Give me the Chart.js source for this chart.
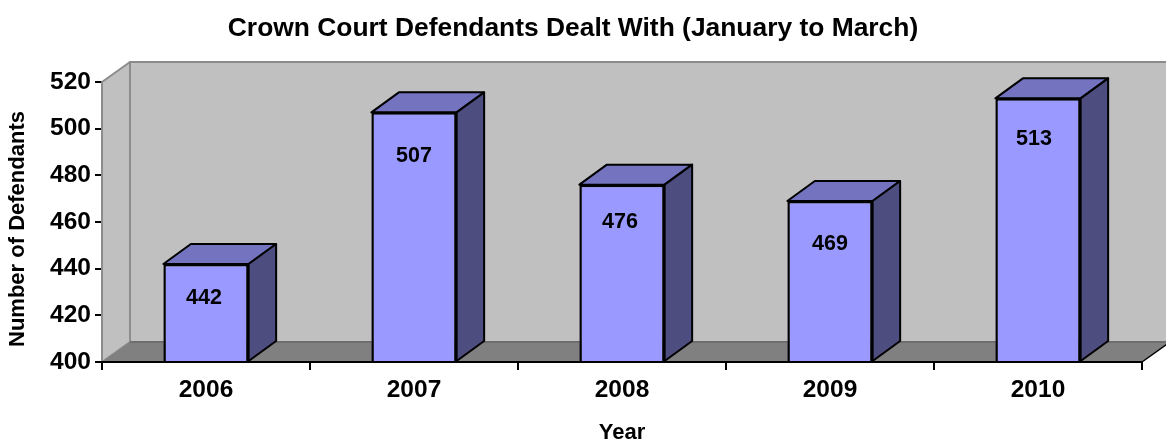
<!DOCTYPE html>
<html>
<head>
<meta charset="utf-8">
<title>Crown Court Defendants</title>
<script src="https://cdn.jsdelivr.net/npm/chart.js@4"></script>
<style>
  html, body { margin: 0; padding: 0; background: #fff; }
  canvas { display: block; }
</style>
</head>
<body>
<canvas id="chart" width="1166" height="439"></canvas>
<script>
const years = ["2006", "2007", "2008", "2009", "2010"];
const defendants = [442, 507, 476, 469, 513];
const yTicks = [400, 420, 440, 460, 480, 500, 520];
const yAxisTitle = "Number of Defendants";

const FONT = '"Liberation Sans", Arial, sans-serif';
const DEPTH_X = 28;
const DEPTH_Y = 20;
// where the labels sit on each bar in the original, relative to the top centre
const labelDrop = [34.5, 44, 37, 43, 41];
const labelShift = [-2, 0, -2, 0, -4];

function poly(ctx, pts, fill, stroke, width) {
  ctx.beginPath();
  pts.forEach((p, i) => i ? ctx.lineTo(p[0], p[1]) : ctx.moveTo(p[0], p[1]));
  ctx.closePath();
  ctx.fillStyle = fill;
  ctx.fill();
  if (stroke) {
    ctx.strokeStyle = stroke;
    ctx.lineWidth = width;
    ctx.lineJoin = "round";
    ctx.stroke();
  }
}

// 3d box look: walls and floor behind the bars, then top and side of each bar
const box3d = {
  id: "box3d",
  beforeDatasetsDraw(chart) {
    const { ctx, chartArea: a } = chart;
    const dx = DEPTH_X, dy = DEPTH_Y;
    ctx.save();
    poly(ctx, [[a.left + dx, a.top - dy], [a.right + dx, a.top - dy], [a.right + dx, a.bottom - dy], [a.left + dx, a.bottom - dy]], "#c0c0c0", "#8c8c8c", 2);
    poly(ctx, [[a.left, a.top], [a.left + dx, a.top - dy], [a.left + dx, a.bottom - dy], [a.left, a.bottom]], "#c0c0c0", "#8c8c8c", 2);
    poly(ctx, [[a.left, a.bottom], [a.right, a.bottom], [a.right + dx, a.bottom - dy], [a.left + dx, a.bottom - dy]], "#808080", null);
    ctx.strokeStyle = "#6e6e6e";
    ctx.lineWidth = 2;
    ctx.beginPath();
    ctx.moveTo(a.left + dx, a.bottom - dy);
    ctx.lineTo(a.right + dx, a.bottom - dy);
    ctx.stroke();
    ctx.strokeStyle = "#000";
    ctx.lineWidth = 1.5;
    ctx.beginPath();
    ctx.moveTo(a.right, a.bottom);
    ctx.lineTo(a.right + dx, a.bottom - dy);
    ctx.stroke();
    chart.getDatasetMeta(0).data.forEach(bar => {
      const { x, y, base, width } = bar.getProps(["x", "y", "base", "width"], true);
      const l = x - width / 2, r = x + width / 2;
      const bx = dx - 0.5;
      poly(ctx, [[l, y], [r, y], [r + bx, y - dy], [l + bx, y - dy]], "#7373bf", "#000", 2);
      poly(ctx, [[r, y], [r + bx, y - dy], [r + bx, base - dy], [r, base]], "#4d4d80", "#000", 2);
    });
    ctx.restore();
  },
  afterDatasetsDraw(chart) {
    const { ctx, chartArea: a } = chart;
    ctx.save();
    ctx.font = "bold 21.5px " + FONT;
    ctx.fillStyle = "#000";
    ctx.textAlign = "center";
    ctx.textBaseline = "middle";
    chart.getDatasetMeta(0).data.forEach((bar, i) => {
      ctx.fillText(String(defendants[i]), bar.x + labelShift[i], bar.y + labelDrop[i]);
    });
    // the y title sits a little below the middle of the axis in the original
    ctx.font = "bold 22px " + FONT;
    ctx.translate(18, (a.top + a.bottom) / 2 + 7);
    ctx.rotate(-Math.PI / 2);
    ctx.fillText(yAxisTitle, 0, 0);
    ctx.restore();
  }
};

new Chart(document.getElementById("chart"), {
  type: "bar",
  data: {
    labels: years,
    datasets: [{
      data: defendants,
      base: yTicks[0],
      backgroundColor: "#9999ff",
      borderColor: "#000",
      borderWidth: 2.5,
      borderSkipped: "bottom",
      categoryPercentage: 1,
      barPercentage: 0.41
    }]
  },
  options: {
    responsive: false,
    animation: false,
    layout: { padding: { left: 4, right: 24, top: 0, bottom: 0 } },
    plugins: {
      legend: { display: false },
      tooltip: { enabled: false },
      title: {
        display: true,
        text: "Crown Court Defendants Dealt With (January to March)",
        color: "#000",
        font: { family: FONT, size: 26.4, weight: "bold", lineHeight: 1 },
        padding: { top: 15.6, bottom: 40 }
      }
    },
    scales: {
      x: {
        afterFit(s) { s.height = 77; },
        border: { color: "#000", width: 2, z: 1 },
        grid: { drawOnChartArea: false, color: "#000", lineWidth: 2, tickLength: 8 },
        ticks: { color: "#000", font: { family: FONT, size: 24.5, weight: "bold" }, padding: 6, maxRotation: 0 },
        title: { display: true, text: "Year", color: "#000", font: { family: FONT, size: 22, weight: "bold" }, padding: { top: 10, bottom: -7 } }
      },
      y: {
        min: yTicks[0],
        max: yTicks[yTicks.length - 1],
        afterFit(s) { s.width = 98; },
        afterBuildTicks(s) { s.ticks = yTicks.map(value => ({ value })); },
        border: { color: "#000", width: 2 },
        grid: { drawOnChartArea: false, color: "#000", lineWidth: 2, tickLength: 7 },
        ticks: { color: "#000", font: { family: FONT, size: 24.5, weight: "bold" }, padding: 4 }
      }
    }
  },
  plugins: [box3d]
});
</script>
</body>
</html>
